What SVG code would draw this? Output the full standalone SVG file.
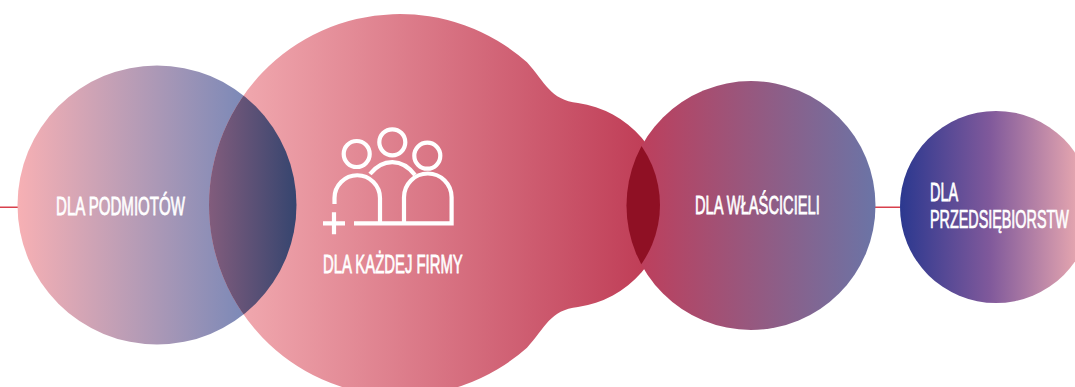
<svg xmlns="http://www.w3.org/2000/svg" width="1075" height="387" viewBox="0 0 1075 387">
<style>
.t{font-family:"Liberation Sans",Arial,sans-serif;font-size:26px;fill:#fff;stroke:#fff;stroke-width:.75px}
.i{fill:none;stroke:#fff;stroke-width:4.2}
.l{stroke:#d8404c;stroke-width:1.4;fill:none}
</style>
<defs>
<linearGradient id="g1" gradientUnits="userSpaceOnUse" x1="18" y1="0" x2="297" y2="0"><stop offset="0" stop-color="#f7b0b4"/><stop offset="1" stop-color="#5f80b8"/></linearGradient>
<linearGradient id="g2" gradientUnits="userSpaceOnUse" x1="209" y1="0" x2="660" y2="0"><stop offset="0" stop-color="#f4b0b5"/><stop offset="1" stop-color="#be3a54"/></linearGradient>
<linearGradient id="g3" gradientUnits="userSpaceOnUse" x1="627" y1="0" x2="875" y2="0"><stop offset="0" stop-color="#c23c58"/><stop offset="1" stop-color="#6b74a6"/></linearGradient>
<linearGradient id="g4" gradientUnits="userSpaceOnUse" x1="900" y1="0" x2="1080" y2="0"><stop offset="0" stop-color="#2b388f"/><stop offset=".5" stop-color="#80599b"/><stop offset="1" stop-color="#e8a8b0"/></linearGradient>
<linearGradient id="g5" gradientUnits="userSpaceOnUse" x1="209" y1="0" x2="297" y2="0"><stop offset="0" stop-color="#825c7c"/><stop offset="1" stop-color="#35456f"/></linearGradient>
<clipPath id="c1"><circle cx="400" cy="205" r="191"/></clipPath>
<clipPath id="c2"><circle cx="751" cy="205.5" r="124.5"/></clipPath>
</defs>
<g id="connectors">
<path class="l" d="M0 207.300H18M875 207.300H900"/>
</g>
<g id="node-podmioty">
<circle cx="157" cy="205" r="139.5" fill="url(#g1)"/>
</g>
<g id="node-kazda-firma">
<path d="M527 62.300C545 82 550 100 578 103A103 103 0 0 1 578 307C550 310 545 328 527 347.700A191 191 0 1 1 527 62.300Z" fill="url(#g2)"/>
<circle cx="157" cy="205" r="139.500" fill="url(#g5)" clip-path="url(#c1)"/>
<g class="i">
<circle cx="356.7" cy="154" r="13"/>
<circle cx="392.3" cy="142.3" r="13"/>
<circle cx="427.3" cy="155.7" r="13"/>
<path d="M334.500 204V198A22.700 22.700 0 0 1 380 198V223.300"/>
<path d="M404 223.300V197.300A23.800 23.800 0 0 1 451.600 197.300V223.300H354"/>
<path d="M370 174C383 158 402 158 415 175"/>
<path d="M323 223.300H345M334 212.300V234.300"/>
</g>
<text class="t" transform="translate(323 273) scale(.6 1)" textLength="233" lengthAdjust="spacingAndGlyphs">DLA KAŻDEJ FIRMY</text>
</g>
<g id="node-wlasciciele">
<circle cx="751" cy="205.5" r="124.5" fill="url(#g3)"/>
<circle cx="557" cy="205" r="103" fill="#8f1024" clip-path="url(#c2)"/>
<text class="t" transform="translate(695 214) scale(.6 1)" textLength="208" lengthAdjust="spacingAndGlyphs">DLA WŁAŚCICIELI</text>
</g>
<g id="node-przedsiebiorstwa">
<circle cx="996" cy="207" r="96" fill="url(#g4)"/>
<text class="t" transform="translate(930 201) scale(.6 1)" textLength="47" lengthAdjust="spacingAndGlyphs">DLA</text>
<text class="t" transform="translate(930 228) scale(.54 1)" textLength="257" lengthAdjust="spacingAndGlyphs">PRZEDSIĘBIORSTW</text>
</g>
<g id="label-podmioty">
<text class="t" transform="translate(56 214.500) scale(.6 1)" textLength="215" lengthAdjust="spacingAndGlyphs">DLA PODMIOTÓW</text>
</g>
</svg>
